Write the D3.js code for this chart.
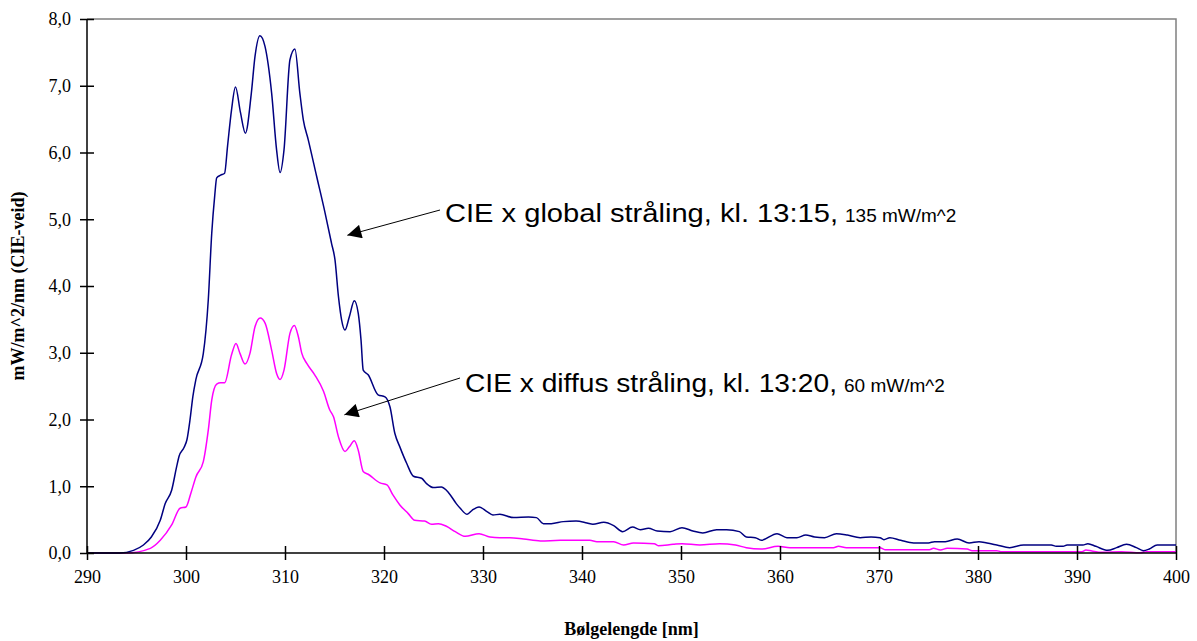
<!DOCTYPE html>
<html>
<head>
<meta charset="utf-8">
<script src="https://cdn.jsdelivr.net/npm/d3@7"></script>
<style>
  html, body { margin: 0; padding: 0; background: #fff; }
  svg { display: block; }
</style>
</head>
<body>
<svg id="chart" width="1197" height="641"></svg>
<script>
// Spectral UV irradiance, CIE-weighted (mW/m^2/nm)
const globalNm = [290, 293.3, 294.7, 295.7, 296.5, 297.4, 297.9, 298.55, 299.05, 299.3, 299.8, 300.1, 300.4, 300.7, 301.0, 301.75, 302.25, 302.6, 302.9, 303.1, 303.5, 303.9, 304.2, 304.6, 305.0, 305.5, 306.0, 306.6, 306.97, 307.47, 307.98, 308.65, 309.15, 309.5, 309.9, 310.5, 311.0, 311.5, 311.85, 312.35, 313.2, 314.04, 314.7, 315.05, 315.4, 315.72, 316.06, 316.5, 317.0, 317.4, 317.68, 317.9, 318.4, 319.4, 320.1, 320.6, 321.1, 321.6, 322.3, 322.97, 323.8, 324.3, 325.0, 325.8, 326.3, 326.7, 327.3, 327.7, 328.4, 328.9, 329.6, 330.4, 331.0, 331.7, 333.1, 334.6, 335.4, 336.1, 336.9, 338.1, 339.4, 340.5, 341.1, 342.2, 343.2, 344.1, 345.1, 345.9, 346.7, 347.6, 348.9, 350.1, 351.2, 352.2, 353.6, 354.6, 355.9, 356.6, 357.5, 358.1, 359.7, 360.7, 361.7, 362.6, 363.5, 364.5, 365.7, 366.8, 368.1, 369.2, 370.1, 370.5, 371.1, 372.2, 373.5, 375.0, 375.6, 376.7, 377.9, 379.1, 380.1, 380.9, 381.9, 383.2, 384.6, 387.4, 387.9, 388.6, 389.0, 390.6, 391.1, 391.9, 393.1, 394.0, 395.0, 396.0, 396.7, 397.3, 398.1, 400];
const globalVal = [0, 0, 0.04, 0.12, 0.24, 0.49, 0.74, 0.94, 1.29, 1.45, 1.58, 1.7, 1.99, 2.35, 2.6, 2.99, 3.79, 4.79, 5.35, 5.62, 5.66, 5.69, 6.1, 6.64, 6.98, 6.6, 6.29, 6.89, 7.44, 7.75, 7.59, 6.89, 6.04, 5.7, 6.04, 7.39, 7.55, 6.89, 6.49, 6.19, 5.64, 5.1, 4.64, 4.39, 3.84, 3.49, 3.34, 3.54, 3.78, 3.59, 3.19, 2.74, 2.67, 2.37, 2.34, 2.19, 1.79, 1.59, 1.34, 1.15, 1.12, 1.04, 0.98, 0.99, 0.94, 0.87, 0.74, 0.67, 0.58, 0.64, 0.69, 0.62, 0.57, 0.58, 0.53, 0.54, 0.53, 0.44, 0.44, 0.47, 0.48, 0.45, 0.43, 0.46, 0.41, 0.32, 0.39, 0.35, 0.37, 0.33, 0.32, 0.38, 0.33, 0.3, 0.35, 0.35, 0.32, 0.24, 0.23, 0.19, 0.29, 0.23, 0.23, 0.27, 0.24, 0.23, 0.29, 0.27, 0.23, 0.24, 0.23, 0.2, 0.23, 0.19, 0.15, 0.15, 0.17, 0.17, 0.21, 0.15, 0.17, 0.15, 0.12, 0.08, 0.12, 0.12, 0.1, 0.1, 0.12, 0.12, 0.14, 0.1, 0.04, 0.08, 0.13, 0.08, 0.035, 0.06, 0.12, 0.12];

const diffusNm = [290, 294, 296.4, 297.4, 298.55, 299.4, 300.0, 300.5, 301.0, 301.75, 302.25, 302.6, 303.1, 303.5, 303.9, 304.6, 305.05, 305.45, 305.96, 306.46, 306.97, 307.5, 308.0, 308.65, 309.15, 309.5, 309.9, 310.5, 310.95, 311.35, 311.7, 312.2, 313.0, 313.9, 314.5, 314.9, 315.4, 316.06, 316.5, 317.0, 317.4, 317.9, 318.4, 319.6, 320.3, 320.9, 321.6, 322.45, 323.1, 324.1, 324.8, 325.5, 326.3, 327.2, 328.2, 329.6, 330.7, 331.7, 332.7, 334.1, 335.8, 337.8, 340.8, 341.5, 343.2, 344.2, 345.2, 347.3, 347.7, 349.2, 350.1, 351.9, 353.9, 355.5, 356.6, 358.1, 359.8, 361.0, 365.4, 365.9, 366.7, 370.1, 370.6, 375.1, 375.5, 376.2, 376.9, 378.9, 379.4, 381.9, 382.3, 390.5, 390.9, 391.5, 392.5, 394.5, 396.4, 397.0, 400];
const diffusVal = [0, 0, 0.07, 0.19, 0.42, 0.67, 0.69, 0.9, 1.14, 1.37, 1.84, 2.29, 2.53, 2.55, 2.55, 2.97, 3.14, 2.99, 2.83, 2.99, 3.39, 3.52, 3.44, 3.04, 2.69, 2.6, 2.74, 3.29, 3.41, 3.24, 2.99, 2.84, 2.67, 2.42, 2.15, 2.04, 1.74, 1.52, 1.59, 1.68, 1.54, 1.22, 1.18, 1.05, 1.02, 0.87, 0.72, 0.59, 0.49, 0.48, 0.43, 0.44, 0.4, 0.32, 0.25, 0.29, 0.24, 0.23, 0.23, 0.21, 0.18, 0.19, 0.19, 0.17, 0.17, 0.12, 0.15, 0.14, 0.11, 0.13, 0.14, 0.12, 0.14, 0.12, 0.08, 0.06, 0.1, 0.08, 0.08, 0.1, 0.08, 0.08, 0.05, 0.05, 0.07, 0.045, 0.07, 0.06, 0.035, 0.035, 0.02, 0.02, 0.045, 0.03, 0.01, 0.02, 0.005, 0.02, 0.02];

const xTicks = [290, 300, 310, 320, 330, 340, 350, 360, 370, 380, 390, 400];
const yTicks = [0, 1, 2, 3, 4, 5, 6, 7, 8];

const labels = {
  xTitle: "Bølgelengde [nm]",
  yTitle: "mW/m^2/nm (CIE-veid)",
  globalMain: "CIE x global stråling, kl. 13:15,",
  globalDose: "135 mW/m^2",
  diffusMain: "CIE x diffus stråling, kl. 13:20,",
  diffusDose: "60 mW/m^2"
};

const serif = "'Liberation Serif', 'Times New Roman', serif";
const sans = "'Liberation Sans', Arial, sans-serif";

const svg = d3.select("#chart");
const margin = { left: 87, right: 1176, top: 19, bottom: 553 };

const x = d3.scaleLinear().domain([290, 400]).range([margin.left, margin.right]);
const y = d3.scaleLinear().domain([0, 8]).range([margin.bottom, margin.top]);

const fmt = v => d3.format(".1f")(v).replace(".", ",");

// plot frame (top and right)
svg.append("path")
  .attr("d", `M${margin.left},${margin.top}H${margin.right}V${margin.bottom}`)
  .attr("fill", "none").attr("stroke", "#808080").attr("stroke-width", 1.5);

// series
const line = d3.line().x(d => x(d[0])).y(d => y(d[1])).curve(d3.curveMonotoneX);
const diffusData = diffusNm.map((n, i) => [n, diffusVal[i]]);
const globalData = globalNm.map((n, i) => [n, globalVal[i]]);

svg.append("path").datum(diffusData).attr("d", line)
  .attr("fill", "none").attr("stroke", "#ff00ff").attr("stroke-width", 1.5);
svg.append("path").datum(globalData).attr("d", line)
  .attr("fill", "none").attr("stroke", "#000080").attr("stroke-width", 1.5);

// axes with ticks crossing the axis line
const yAxis = svg.append("g").attr("transform", `translate(${margin.left},0)`)
  .call(d3.axisLeft(y).tickValues(yTicks).tickFormat(fmt).tickSize(7).tickPadding(9));
yAxis.selectAll(".tick line").attr("x2", 7).attr("x1", -7);
const xAxis = svg.append("g").attr("transform", `translate(0,${margin.bottom})`)
  .call(d3.axisBottom(x).tickValues(xTicks).tickFormat(d3.format("d")).tickSize(7).tickPadding(10));
xAxis.selectAll(".tick line").attr("y1", -7).attr("y2", 7);

[yAxis, xAxis].forEach(g => {
  g.attr("font-family", serif).attr("font-size", 18);
  g.select(".domain").attr("stroke", "#000").attr("stroke-width", 1.5);
  g.selectAll(".tick line").attr("stroke", "#000").attr("stroke-width", 1.5);
  g.selectAll(".tick text")
    .style("font-family", serif).style("font-size", "18px").attr("fill", "#000");
});
yAxis.select(".domain").attr("d", `M0,${margin.bottom}V${margin.top}`);
xAxis.select(".domain").attr("d", `M${margin.left},0H${margin.right}`);

// axis titles
svg.append("text")
  .attr("x", (margin.left + margin.right) / 2).attr("y", 635)
  .attr("text-anchor", "middle")
  .attr("font-family", serif)
  .attr("font-weight", "bold").attr("font-size", 18)
  .text(labels.xTitle);
svg.append("text")
  .attr("transform", `translate(24,${(margin.top + margin.bottom) / 2}) rotate(-90)`)
  .attr("text-anchor", "middle")
  .attr("font-family", serif)
  .attr("font-weight", "bold").attr("font-size", 18)
  .text(labels.yTitle);

// arrow marker
svg.append("defs").append("marker")
  .attr("id", "head").attr("viewBox", "0 0 10 10")
  .attr("refX", 10).attr("refY", 5)
  .attr("markerWidth", 16).attr("markerHeight", 14)
  .attr("markerUnits", "userSpaceOnUse")
  .attr("orient", "auto")
  .append("path").attr("d", "M0,0L10,5L0,10Z").attr("fill", "#000");

// annotation: label text (main part slightly widened), smaller dose value, arrow to curve
function annotate(tx, ty, main, mainWidth, dose, ax, ay, tipNm, tipVal) {
  svg.append("text").attr("x", tx).attr("y", ty)
    .attr("font-family", sans)
    .attr("font-size", 25).attr("fill", "#000")
    .attr("textLength", mainWidth).attr("lengthAdjust", "spacingAndGlyphs")
    .text(main);
  svg.append("text").attr("x", tx + mainWidth + 7).attr("y", ty)
    .attr("font-family", sans)
    .attr("font-size", 19).attr("fill", "#000")
    .text(dose);
  svg.append("line")
    .attr("x1", ax).attr("y1", ay)
    .attr("x2", x(tipNm)).attr("y2", y(tipVal))
    .attr("stroke", "#000").attr("stroke-width", 1)
    .attr("marker-end", "url(#head)");
}

annotate(445, 222, labels.globalMain, 393, labels.globalDose, 440, 210, 316.3, 4.76);
annotate(465, 392, labels.diffusMain, 372, labels.diffusDose, 460, 378, 316.0, 2.07);
</script>
</body>
</html>
